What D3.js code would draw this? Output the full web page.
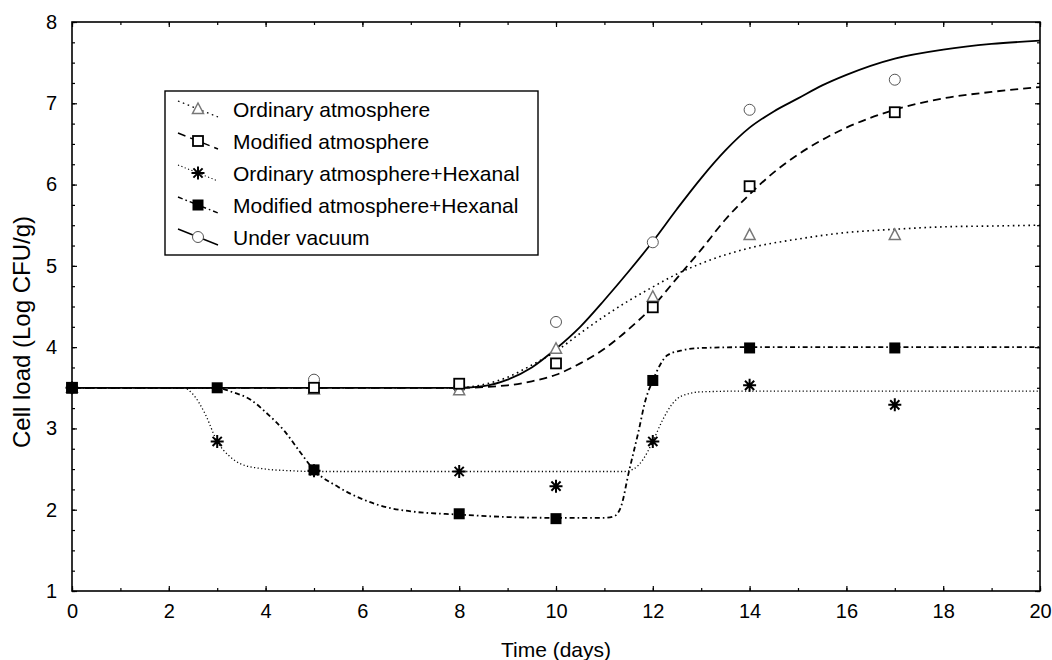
<!DOCTYPE html>
<html>
<head>
<meta charset="utf-8">
<script src="https://cdn.jsdelivr.net/npm/d3@7"></script>
<style>
  body { margin: 0; background: #fff; }
  text { font-family: "Liberation Sans", Arial, sans-serif; fill: #000; }
</style>
</head>
<body>
<script>
// DATA =============================================
// sampling days
var days = [0, 5, 8, 10, 12, 14, 17];
var hexDays = [0, 3, 5, 8, 10, 12, 14, 17];

// observed cell loads (Log CFU/g)
var ordinary = [3.5, 3.48, 3.47, 3.98, 4.62, 5.38, 5.38];
var modified = [3.5, 3.5, 3.55, 3.8, 4.49, 5.98, 6.89];
var vacuum = [3.5, 3.6, 3.5, 4.31, 5.29, 6.92, 7.29];
var ordinaryHex = [3.5, 2.84, 2.48, 2.47, 2.29, 2.84, 3.53, 3.29];
var modifiedHex = [3.5, 3.5, 2.49, 1.95, 1.89, 3.59, 3.99, 3.99];

// fitted curves
var ordinaryFitT = [0, 8, 8.5, 9, 9.5, 10, 10.5, 11, 11.5, 12, 12.5, 13, 14, 15, 16, 17, 18, 19, 20];
var ordinaryFit = [3.5, 3.5, 3.54, 3.63, 3.78, 3.95, 4.17, 4.38, 4.57, 4.74, 4.9, 5.03, 5.22, 5.33, 5.41, 5.45, 5.48, 5.49, 5.5];

var modifiedFitT = [0, 8, 9, 9.5, 10, 10.5, 11, 11.5, 12, 12.5, 13, 13.5, 14, 14.5, 15, 15.5, 16, 17, 18, 19, 20];
var modifiedFit = [3.5, 3.5, 3.53, 3.58, 3.66, 3.8, 3.98, 4.22, 4.5, 4.85, 5.2, 5.57, 5.88, 6.15, 6.37, 6.55, 6.7, 6.92, 7.06, 7.14, 7.2];

var vacuumFitT = [0, 8, 8.5, 9, 9.5, 10, 10.5, 11, 11.5, 12, 12.5, 13, 13.5, 14, 14.5, 15, 15.5, 16, 17, 18, 19, 20];
var vacuumFit = [3.5, 3.5, 3.52, 3.6, 3.75, 3.98, 4.25, 4.58, 4.93, 5.3, 5.7, 6.08, 6.42, 6.7, 6.9, 7.06, 7.22, 7.35, 7.55, 7.66, 7.73, 7.77];

var ordinaryHexFitT = [0, 2.3, 2.5, 2.75, 3, 3.25, 3.5, 4, 4.5, 5, 11.4, 11.6, 11.8, 12, 12.2, 12.4, 12.6, 13, 14, 20];
var ordinaryHexFit = [3.5, 3.5, 3.42, 3.18, 2.84, 2.66, 2.56, 2.5, 2.48, 2.47, 2.47, 2.5, 2.62, 2.84, 3.1, 3.3, 3.4, 3.45, 3.46, 3.46];

var modifiedHexFitT = [0, 3, 3.3, 3.7, 4, 4.4, 4.7, 5, 5.5, 6, 6.5, 7, 8, 9, 10, 11, 11.2, 11.35, 11.5, 11.7, 11.85, 12, 12.15, 12.3, 12.6, 13, 14, 20];
var modifiedHexFit = [3.5, 3.5, 3.45, 3.35, 3.2, 2.96, 2.72, 2.49, 2.28, 2.13, 2.03, 1.98, 1.94, 1.91, 1.9, 1.9, 1.92, 2.05, 2.45, 2.95, 3.35, 3.59, 3.78, 3.9, 3.96, 3.99, 4.0, 4.0];

var xTicks = [0, 2, 4, 6, 8, 10, 12, 14, 16, 18, 20];
var yTicks = [1, 2, 3, 4, 5, 6, 7, 8];

var legendLabels = ["Ordinary atmosphere", "Modified atmosphere", "Ordinary atmosphere+Hexanal", "Modified atmosphere+Hexanal", "Under vacuum"];
// ==============================================================================

var width = 1052, height = 660;
var mLeft = 72, mRight = 1040, mTop = 22, mBottom = 591;

var x = d3.scaleLinear().domain([0, 20]).range([mLeft, mRight]);
var y = d3.scaleLinear().domain([1, 8]).range([mBottom, mTop]);

var svg = d3.select("body").append("svg")
    .attr("width", width)
    .attr("height", height);

// series styles
var series = [
  { name: legendLabels[0], t: days, v: ordinary, ft: ordinaryFitT, fv: ordinaryFit, dash: "1.6,3.6", width: 1.6, mark: "triangle" },
  { name: legendLabels[1], t: days, v: modified, ft: modifiedFitT, fv: modifiedFit, dash: "8,5", width: 1.8, mark: "square" },
  { name: legendLabels[2], t: hexDays, v: ordinaryHex, ft: ordinaryHexFitT, fv: ordinaryHexFit, dash: "1.2,2.4", width: 1.3, mark: "star" },
  { name: legendLabels[3], t: hexDays, v: modifiedHex, ft: modifiedHexFitT, fv: modifiedHexFit, dash: "5,3,1.6,3", width: 1.8, mark: "filled" },
  { name: legendLabels[4], t: days, v: vacuum, ft: vacuumFitT, fv: vacuumFit, dash: null, width: 1.8, mark: "circle" }
];

// AXES =============================================
function frameAxis(axis, tr) {
  var g = svg.append("g").attr("transform", tr).call(axis);
  g.select(".domain").remove();
  g.selectAll(".tick line").attr("stroke", "#000").attr("stroke-width", 1.2);
  g.selectAll(".tick text").style("font-size", "20px").attr("fill", "#000");
  return g;
}

var xMinor = d3.range(0, 21, 1), yMinor = d3.range(1, 8.01, 0.25);

frameAxis(d3.axisBottom(x).tickValues(xMinor).tickSize(-3).tickFormat(""), "translate(0," + mBottom + ")");
frameAxis(d3.axisBottom(x).tickValues(xTicks).tickSize(-5).tickPadding(13).tickFormat(d3.format("d")), "translate(0," + mBottom + ")");
frameAxis(d3.axisTop(x).tickValues(xMinor).tickSize(-3).tickFormat(""), "translate(0," + mTop + ")");
frameAxis(d3.axisTop(x).tickValues(xTicks).tickSize(-5).tickFormat(""), "translate(0," + mTop + ")");
frameAxis(d3.axisLeft(y).tickValues(yMinor).tickSize(-3).tickFormat(""), "translate(" + mLeft + ",0)");
frameAxis(d3.axisLeft(y).tickValues(yTicks).tickSize(-5).tickPadding(15).tickFormat(d3.format("d")), "translate(" + mLeft + ",0)");
frameAxis(d3.axisRight(y).tickValues(yMinor).tickSize(-3).tickFormat(""), "translate(" + mRight + ",0)");
frameAxis(d3.axisRight(y).tickValues(yTicks).tickSize(-5).tickFormat(""), "translate(" + mRight + ",0)");

svg.append("rect")
    .attr("x", mLeft).attr("y", mTop)
    .attr("width", mRight - mLeft).attr("height", mBottom - mTop)
    .attr("fill", "none").attr("stroke", "#000").attr("stroke-width", 1.6);

svg.append("text")
    .attr("x", (mLeft + mRight) / 2).attr("y", 657)
    .attr("text-anchor", "middle")
    .style("font-size", "21px")
    .text("Time (days)");

svg.append("text")
    .attr("transform", "translate(30,332) rotate(-90)")
    .attr("text-anchor", "middle")
    .style("font-size", "24px")
    .text("Cell load (Log CFU/g)");

// CURVES =============================================
var line = d3.line()
    .curve(d3.curveMonotoneX)
    .x(d => x(d[0]))
    .y(d => y(d[1]));

svg.selectAll("path.fit")
    .data(series)
  .enter().append("path")
    .attr("class", "fit")
    .attr("d", s => line(s.ft.map((t, i) => [t, s.fv[i]])))
    .attr("fill", "none")
    .attr("stroke", "#000")
    .attr("stroke-width", s => s.width)
    .attr("stroke-dasharray", s => s.dash);

// MARKERS =============================================
function drawMark(g, kind) {
  if (kind === "circle") {
    g.append("circle").attr("r", 5.5).attr("fill", "#fff").attr("stroke", "#555").attr("stroke-width", 1);
  } else if (kind === "triangle") {
    g.append("path").attr("d", "M0,-6L5.5,4.5L-5.5,4.5Z")
      .attr("fill", "#fff").attr("stroke", "#777").attr("stroke-width", 1.5);
  } else if (kind === "square") {
    g.append("rect").attr("x", -5).attr("y", -5).attr("width", 10).attr("height", 10)
      .attr("fill", "#fff").attr("stroke", "#000").attr("stroke-width", 1.8);
  } else if (kind === "filled") {
    g.append("rect").attr("x", -5.5).attr("y", -5.5).attr("width", 11).attr("height", 11)
      .attr("fill", "#000");
  } else if (kind === "star") {
    g.append("path").attr("d", "M0,-6.5V6.5M-6.5,0H6.5M-4.6,-4.6L4.6,4.6M-4.6,4.6L4.6,-4.6")
      .attr("stroke", "#000").attr("stroke-width", 2).attr("fill", "none");
  }
}

var drawOrder = [4, 0, 1, 2, 3];
drawOrder.forEach(k => {
  var s = series[k];
  s.t.forEach((t, i) => {
    var g = svg.append("g").attr("transform", "translate(" + x(t) + "," + y(s.v[i]) + ")");
    drawMark(g, s.mark);
  });
});

// LEGEND =============================================
var legend = svg.append("g");
legend.append("rect")
    .attr("x", 165).attr("y", 91)
    .attr("width", 373).attr("height", 164)
    .attr("fill", "#fff").attr("stroke", "#000").attr("stroke-width", 1.4);

series.forEach((s, i) => {
  var ry = 109 + i * 32;
  legend.append("line")
    .attr("x1", 178).attr("y1", ry - 8)
    .attr("x2", 218).attr("y2", ry + 8)
    .attr("stroke", "#000")
    .attr("stroke-width", s.width * 0.8)
    .attr("stroke-dasharray", s.dash);
  var g = legend.append("g").attr("transform", "translate(198," + ry + ")");
  drawMark(g, s.mark);
  legend.append("text")
    .attr("x", 233).attr("y", ry)
    .attr("dy", "0.36em")
    .style("font-size", "21px")
    .text(s.name);
});
</script>
</body>
</html>
